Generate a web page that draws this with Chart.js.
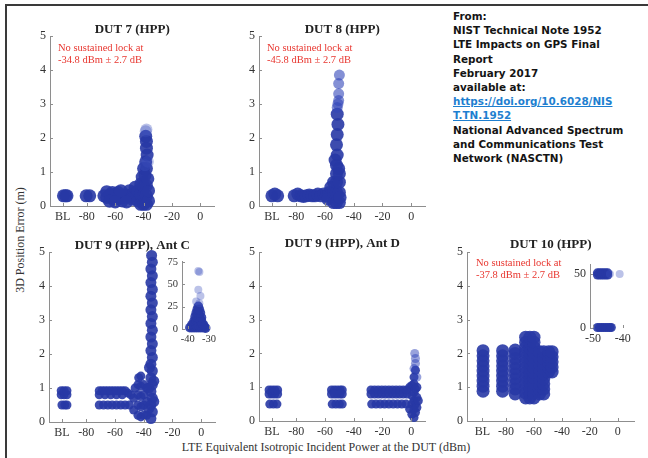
<!DOCTYPE html>
<html><head><meta charset="utf-8">
<script src="https://cdn.jsdelivr.net/npm/chart.js@4.4.1/dist/chart.umd.min.js"></script>
<style>
html,body{margin:0;padding:0;background:#fff;}
#wrap{position:relative;width:648px;height:458px;overflow:hidden;background:#fff;}
#wrap canvas{position:absolute;}
#frameTop{position:absolute;left:5px;top:4px;width:643px;height:2px;background:#3a3a3a;}
#frameLeft{position:absolute;left:5px;top:4px;width:2px;height:454px;background:#3a3a3a;}
#info{position:absolute;left:453px;top:9px;font-family:"DejaVu Sans",sans-serif;font-weight:bold;font-size:10.4px;line-height:14.2px;color:#141414;white-space:nowrap;}
#info a{color:#1e7fd0;text-decoration:underline;}
#ytitle{position:absolute;left:20px;top:240px;transform:translate(-50%,-50%) rotate(-90deg);font:12px "Liberation Serif",serif;color:#333;white-space:nowrap;}
#xtitle{position:absolute;left:326px;top:447px;transform:translate(-50%,-50%);font:12px "Liberation Serif",serif;color:#333;white-space:nowrap;}
</style></head>
<body>
<div id="wrap">
  <div id="frameTop"></div><div id="frameLeft"></div>
  <div id="info">From:<br>NIST Technical Note 1952<br>LTE Impacts on GPS Final<br>Report<br>February 2017<br>available at:<br><a>https://doi.org/10.6028/NIS<br>T.TN.1952</a><br>National Advanced Spectrum<br>and Communications Test<br>Network (NASCTN)</div>
  <div id="ytitle">3D Position Error (m)</div>
  <div id="xtitle">LTE Equivalent Isotropic Incident Power at the DUT (dBm)</div>
</div>
<script>
// ---------- tick values / labels ----------
const xTickValues = [-97, -80, -60, -40, -20, 0];
const xTickLabels = ['BL', '-80', '-60', '-40', '-20', '0'];
const yTickValues = [0, 1, 2, 3, 4, 5];
const insetCXTicks = [-40, -30];
const insetCYTicks = [0, 25, 50, 75];
const inset10XTicks = [-50, -40];
const inset10YTicks = [0, 50];

// ---------- data: [incident power dBm, 3D position error m] ----------
const dut7 = [
  [-96.5,0.3],[-95,0.3],[-94,0.3],
  [-80.5,0.3],[-78,0.3],
  [-68,0.3],[-66,0.25],[-64,0.32],[-62,0.22],[-60,0.35],[-58,0.22],[-56,0.3],[-54,0.25],[-52,0.32],[-50,0.28],[-48,0.35],[-46,0.3],
  [-62,0.4],[-58,0.4],[-55,0.15],[-50,0.45],[-48,0.2],[-46,0.55],
  [-66,0.42],[-64,0.14],[-60,0.12],[-56,0.45],[-52,0.12],
  [-44,0.15],[-44,0.45],[-42,0.05],[-42,0.35],[-42,0.65],[-40,0.05],[-40,0.3],[-40,0.6],[-38,0.05],[-38,0.3],[-38,0.6],[-36.5,0.15],[-36.5,0.45],
  [-41,0.85],[-39,0.9],[-37,0.8],[-40,1.1],[-38,1.1],[-38.5,1.3],[-37.5,1.5],[-38,1.7],[-38,1.9],[-38.5,2.05]
];
const dut7Fringe = [[-38.5,2.2],[-38,2.25],[-39,1.2],[-37,1.3]];
const dut8 = [
  [-97,0.3],[-95,0.35],[-93,0.3],
  [-81.5,0.3],[-79,0.35],[-77,0.3],[-75,0.28],[-73,0.3],[-71,0.32],[-69,0.3],[-67,0.3],[-65,0.35],[-63,0.3],[-61,0.35],[-59,0.3],[-57,0.4],[-58,0.2],[-56,0.55],
  [-54,0.1],[-54,0.4],[-54,0.7],[-52,0.1],[-52,0.4],[-52,0.7],[-52,0.95],[-50,0.1],[-50,0.4],[-50,0.7],[-50,0.95],[-49.5,0.25],
  [-52,1.2],[-51.5,1.5],[-52,1.8],[-51.5,2.1],[-51,2.4],[-51.5,2.7],[-53,1.35],[-50.5,1.1]
];
const dut8Fringe = [[-51,3.0],[-50.5,3.3],[-50.5,3.6],[-50,3.85],[-51.5,2.9],[-50.5,3.1]];
const dut9AntC = [
  [-97.5,0.8],[-95.5,0.8],[-93.5,0.8],[-97.5,0.92],[-95.5,0.92],[-93.5,0.92],
  [-97,0.5],[-95,0.5],[-93.5,0.5],
  [-71,0.8],[-69,0.92],[-67,0.8],[-65,0.92],[-63,0.8],[-61,0.92],[-59,0.8],[-57,0.92],[-55,0.8],[-53,0.92],[-51,0.85],[-49,0.8],
  [-71,0.92],[-67,0.92],[-63,0.92],[-59,0.92],[-55,0.92],
  [-71,0.5],[-68,0.5],[-65,0.5],[-62,0.5],[-59,0.5],[-56,0.5],[-53,0.5],[-50,0.5],
  [-47,0.35],[-47,0.7],[-46,1.0],[-44,0.2],[-44,0.5],[-44,0.8],[-44,1.1],[-43.5,1.3],[-42,0.15],[-42,0.45],[-42,0.75],[-42,1.05],[-42,1.35],
  [-40,0.2],[-40,0.5],[-40,0.8],[-40,1.1],[-38,0.2],[-38,0.6],[-38,1.0]
];
const dut9AntCSpike = [
  [-35,0.1],[-34,0.3],[-35,0.5],[-34,0.7],[-35,0.9],[-34,1.1],[-35,1.3],[-34,1.5],[-35,1.7],[-34,1.9],[-35,2.1],[-34,2.3],[-35,2.5],
  [-34,2.7],[-35,2.9],[-34,3.1],[-35,3.3],[-34,3.5],[-35,3.7],[-34,3.9],[-35,4.1],[-34,4.3],[-35,4.5],[-34,4.7],[-34.5,4.9],
  [-36.5,0.4],[-36.5,1.0],[-36,1.6],[-33,0.6],[-33,1.2]
];
const dut9AntCInset = [
  [-39,1.5],[-38,1.5],[-37,1.5],[-36,1.5],[-35,1.5],[-34,1.5],[-33,1.5],[-32,1.5],[-31.5,1],
  [-38,5],[-37,5.5],[-36,5],[-35,5.5],[-34,5],[-33,5.5],[-32.5,4.5],
  [-37,9],[-36,10],[-35,9],[-34,10],[-33.5,9],
  [-36.5,14],[-35.5,13],[-34.5,14],[-33.5,13],
  [-36,18],[-35,18],[-34,18],
  [-35.5,22],[-34.5,22],[-35,25.5]
];
const dut9AntCInsetFringe = [[-36,31],[-34,37],[-35,44],[-34.5,64],[-35,65],[-34.5,29]];
const dut9AntD = [
  [-99,0.8],[-97,0.8],[-95,0.8],[-93,0.8],[-99,0.92],[-97,0.92],[-95,0.92],[-93,0.92],[-98.5,0.5],[-96,0.5],[-93.5,0.5],
  [-55.5,0.8],[-53.5,0.92],[-51.5,0.8],[-49.5,0.92],[-48,0.8],[-55.5,0.92],[-51.5,0.92],[-48,0.92],[-53.5,0.8],[-49.5,0.8],
  [-55,0.5],[-52.5,0.5],[-50,0.5],[-48,0.5],
  [-28,0.8],[-25.5,0.92],[-23,0.8],[-20.5,0.92],[-18,0.8],[-15.5,0.92],[-13,0.8],[-10.5,0.92],[-8,0.8],[-5.5,0.92],[-3,0.8],
  [-28,0.92],[-25.5,0.8],[-23,0.92],[-20.5,0.8],[-18,0.92],[-15.5,0.8],[-13,0.92],[-10.5,0.8],[-8,0.92],[-5.5,0.8],[-3,0.92],
  [-27.5,0.5],[-24.5,0.5],[-21.5,0.5],[-18.5,0.5],[-15.5,0.5],[-12.5,0.5],[-9.5,0.5],[-6.5,0.5],[-3.5,0.5],
  [-1,0.35],[-1,1.0],[0.5,0.2],[0.5,0.5],[0.5,0.75],[0.5,1.05],[2,0.1],[2,0.35],[2,0.6],[2,0.85],[2,1.1],[2,1.3],
  [3,1.5],[3,0.25],[3,0.5],[3,0.95],[4,0.4],[4,0.7],[4,1.0],[5,0.6]
];
const dut9AntDFringe = [[3,1.7],[3,1.85],[2.5,2.0],[2,1.55],[4,1.3]];
const dut10 = [
  [-96.5,0.88],[-96.5,1.03],[-96.5,1.18],[-96.5,1.33],[-96.5,1.48],[-96.5,1.63],[-96.5,1.78],[-96.5,1.93],[-96.5,2.08],
  [-82.5,0.88],[-82.5,1.03],[-82.5,1.18],[-82.5,1.33],[-82.5,1.48],[-82.5,1.63],[-82.5,1.78],[-82.5,1.93],[-82.5,2.08],
  [-73.5,0.8],[-73.5,0.95],[-73.5,1.1],[-73.5,1.25],[-73.5,1.4],[-73.5,1.55],[-73.5,1.7],[-73.5,1.85],[-73.5,2.0],[-73.5,2.1],
  [-66,0.68],[-66,0.83],[-66,0.98],[-66,1.13],[-66,1.28],[-66,1.43],[-66,1.58],[-66,1.73],[-66,1.88],[-66,2.03],[-66,2.18],[-66,2.33],[-66,2.48],
  [-63,0.68],[-63,0.83],[-63,0.98],[-63,1.13],[-63,1.28],[-63,1.43],[-63,1.58],[-63,1.73],[-63,1.88],[-63,2.03],[-63,2.18],[-63,2.33],[-63,2.48],
  [-60,0.68],[-60,0.83],[-60,0.98],[-60,1.13],[-60,1.28],[-60,1.43],[-60,1.58],[-60,1.73],[-60,1.88],[-60,2.03],[-60,2.18],[-60,2.33],[-60,2.48],
  [-56,0.8],[-56,0.95],[-56,1.1],[-56,1.25],[-56,1.4],[-56,1.55],[-56,1.7],[-56,1.85],[-56,2.05],
  [-53,0.8],[-53,0.95],[-53,1.1],[-53,1.25],[-53,1.4],[-53,1.55],[-53,1.7],[-53,1.85],[-53,2.05],
  [-49.5,1.45],[-49.5,1.6],[-49.5,1.75],[-49.5,1.9],[-49.5,2.05],
  [-47,1.45],[-47,1.6],[-47,1.75],[-47,1.9],[-47,2.05]
];
const dut10Inset = [
  [-48.5,49],[-47.8,49],[-47.1,49],[-46.4,49],[-45.7,49],[-45,49],
  [-48.5,51],[-47.8,51],[-47.1,51],[-46.4,51],[-45.7,51],[-45,51],
  [-48.5,0.5],[-47.8,0.5],[-47.1,0.5],[-46.4,0.5],[-45.7,0.5],[-45,0.5],[-44.3,0.5],[-43.8,0.5]
];
const dut10InsetFringe = [[-41,50],[-44.3,50]];

// ---------- drawing ----------
const COLOR = 'rgba(40,57,165,0.9)';
const FRINGE = 'rgba(60,80,190,0.35)';
const AXIS = '#8e8e8e';
const SERIF = '"Liberation Serif", "Times New Roman", serif';
const wrap = document.getElementById('wrap');

const innerTicks = {
  id: 'innerTicks',
  afterDraw(chart) {
    const ctx = chart.ctx, a = chart.chartArea, xs = chart.scales.x, ys = chart.scales.y;
    ctx.save(); ctx.strokeStyle = AXIS; ctx.lineWidth = 1; ctx.beginPath();
    xs.ticks.forEach(t => { const px = Math.round(xs.getPixelForValue(t.value)) + 0.5; ctx.moveTo(px, a.bottom); ctx.lineTo(px, a.bottom - 3); });
    ys.ticks.forEach(t => { const py = Math.round(ys.getPixelForValue(t.value)) + 0.5; ctx.moveTo(a.left, py); ctx.lineTo(a.left + 3, py); });
    ctx.stroke(); ctx.restore();
  }
};
const notes = {
  id: 'notes',
  afterDraw(chart, args, opts) {
    if (!opts || !opts.lines) return;
    const ctx = chart.ctx, a = chart.chartArea;
    ctx.save(); ctx.fillStyle = '#e8352e'; ctx.font = '10.5px ' + SERIF; ctx.textBaseline = 'middle';
    opts.lines.forEach((s, i) => ctx.fillText(s, a.left + opts.dx, a.top + opts.dy + i * 12));
    ctx.restore();
  }
};

function makePanel(p) {
  const padL = p.padL || 32, padT = p.padT || 20, padR = 4, xH = 22, padB = 26;
  const w = p.area.r - p.area.l + padL + padR;
  const h = p.area.b - p.area.t + padT + padB;
  const c = document.createElement('canvas');
  c.width = w; c.height = h;
  c.style.left = (p.area.l - padL) + 'px'; c.style.top = (p.area.t - padT) + 'px';
  c.style.width = w + 'px'; c.style.height = h + 'px';
  wrap.appendChild(c);
  const titleH = p.title ? p.titleOff * 2 : 0;
  const datasets = p.sets.map(s => ({ data: s.data.map(([x, y]) => ({ x, y })), pointRadius: s.radius, pointHoverRadius: s.radius,
      pointBackgroundColor: s.color || COLOR, pointBorderWidth: 0, pointBorderColor: 'rgba(0,0,0,0)', clip: 6 }));
  new Chart(c, {
    type: 'scatter',
    data: { datasets },
    options: {
      responsive: false, animation: false, events: [],
      layout: { padding: { left: 0, top: padT - titleH, right: padR, bottom: padB - xH } },
      plugins: {
        legend: { display: false }, tooltip: { enabled: false },
        title: { display: !!p.title, text: p.title || '', fullSize: false, color: '#222', padding: 0,
          font: { family: SERIF, size: 13, weight: 'bold', lineHeight: titleH ? titleH / 13 : 1.2 } },
        notes: p.notes || {}
      },
      scales: {
        x: { type: 'linear', min: p.xMin, max: p.xMax,
          afterBuildTicks: s => { s.ticks = p.xTicks.map(v => ({ value: v })); },
          afterFit: s => { s.height = xH; },
          grid: { display: false, drawTicks: false },
          border: { display: p.xBorder !== false, color: AXIS, width: 1 },
          ticks: { padding: 4, color: '#333', font: { family: SERIF, size: p.font || 12 },
            callback: (v, i) => (p.xLabels ? p.xLabels[i] : String(p.xTicks[i])) } },
        y: { type: 'linear', min: p.yMin, max: p.yMax,
          afterBuildTicks: s => { s.ticks = p.yTicks.map(v => ({ value: v })); },
          afterFit: s => { s.width = padL; },
          grid: { display: false, drawTicks: false },
          border: { display: true, color: AXIS, width: 1 },
          ticks: { padding: 4, color: '#333', font: { family: SERIF, size: p.font || 12 },
            callback: (v, i) => String(p.yTicks[i]) } }
      }
    },
    plugins: [innerTicks, notes]
  });
}

const mainAxes = { xMin: -106, xMax: 10, yMin: 0, yMax: 5, xTicks: xTickValues, xLabels: xTickLabels, yTicks: yTickValues };

makePanel(Object.assign({ area: { l: 50, t: 36, r: 217, b: 206 }, title: 'DUT 7 (HPP)', titleOff: 6,
  sets: [{ data: dut7Fringe, radius: 6, color: FRINGE }, { data: dut7, radius: 6.5 }],
  notes: { dx: 8, dy: 12, lines: ['No sustained lock at', '-34.8 dBm \u00b1 2.7 dB'] } }, mainAxes));
makePanel(Object.assign({ area: { l: 259, t: 36, r: 428, b: 206 }, title: 'DUT 8 (HPP)', titleOff: 6,
  sets: [{ data: dut8Fringe, radius: 5.5, color: 'rgba(50,70,185,0.6)' }, { data: dut8, radius: 6.5 }],
  notes: { dx: 8, dy: 12, lines: ['No sustained lock at', '-45.8 dBm \u00b1 2.7 dB'] } }, mainAxes));
makePanel(Object.assign({ area: { l: 49, t: 252, r: 217, b: 422 }, title: 'DUT 9 (HPP), Ant C', titleOff: 6,
  sets: [{ data: dut9AntC, radius: 4.5 }, { data: dut9AntCSpike, radius: 5.5 }] }, mainAxes));
makePanel(Object.assign({ area: { l: 259, t: 252, r: 426, b: 421 }, title: 'DUT 9 (HPP), Ant D', titleOff: 8,
  sets: [{ data: dut9AntDFringe, radius: 4.5, color: 'rgba(50,70,185,0.5)' }, { data: dut9AntD, radius: 4.5 }] }, mainAxes));
makePanel(Object.assign({}, mainAxes, { area: { l: 467, t: 252, r: 637, b: 421 }, title: 'DUT 10 (HPP)', titleOff: 7,
  xMin: -108, xMax: 12, sets: [{ data: dut10, radius: 6.5 }],
  notes: { dx: 9, dy: 11, lines: ['No sustained lock at', '-37.8 dBm \u00b1 2.7 dB'] } }));
makePanel({ area: { l: 182, t: 261, r: 217, b: 329 }, padL: 24, padT: 10, font: 10.5,
  sets: [{ data: dut9AntCInsetFringe, radius: 4, color: FRINGE }, { data: dut9AntCInset, radius: 4.8 }],
  xMin: -42.7, xMax: -27, yMin: 0, yMax: 76, xTicks: insetCXTicks, yTicks: insetCYTicks, xBorder: false });
makePanel({ area: { l: 590, t: 263, r: 635, b: 328 }, padL: 26, padT: 10, font: 12,
  sets: [{ data: dut10InsetFringe, radius: 4, color: FRINGE }, { data: dut10Inset, radius: 4.5 }],
  xMin: -51, xMax: -36, yMin: 0, yMax: 59, xTicks: inset10XTicks, yTicks: inset10YTicks, xBorder: false });
</script>
</body></html>
